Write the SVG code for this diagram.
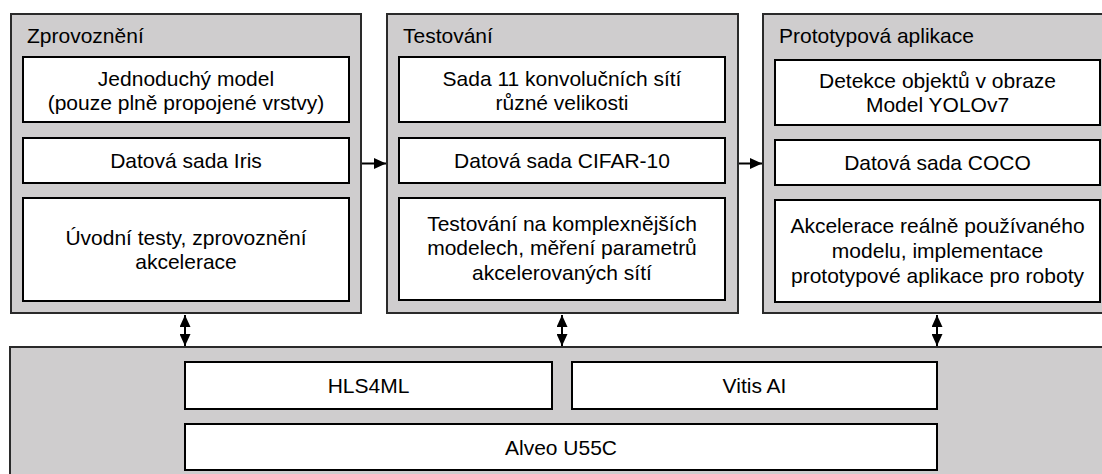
<svg xmlns="http://www.w3.org/2000/svg" width="1102" height="474" viewBox="0 0 1102 474">
<style>
.panel{fill:#cfcdce;stroke:#2a2a2a;stroke-width:2}
.box{fill:#ffffff;stroke:#000000;stroke-width:2}
text{font-family:"Liberation Sans",Arial,sans-serif;font-size:21px;fill:#000000}
.c{text-anchor:middle}
.conn{stroke:#000000;stroke-width:2;fill:none}
</style>
<defs>
<marker id="ah" viewBox="0 0 12 11" refX="12" refY="5.5" markerWidth="12" markerHeight="11" markerUnits="userSpaceOnUse" orient="auto-start-reverse">
<path d="M0,0 L12,5.5 L0,11 z" fill="#000000"/>
</marker>
</defs>
<rect width="1102" height="474" fill="#ffffff"/>

<g id="platform">
<rect class="panel" x="10" y="347" width="1110" height="140"/>
<g id="hls4ml"><rect class="box" x="185" y="362" width="367" height="47"/><text class="c" x="368.5" y="393">HLS4ML</text></g>
<g id="vitis"><rect class="box" x="572" y="362" width="365" height="47"/><text class="c" x="754.5" y="393">Vitis AI</text></g>
<g id="alveo"><rect class="box" x="185" y="424" width="752" height="46"/><text class="c" x="561" y="455">Alveo U55C</text></g>
</g>

<g id="zprovozneni">
<rect class="panel" x="11" y="14" width="350" height="299"/>
<text x="27" y="43">Zprovoznění</text>
<rect class="box" x="23" y="57" width="326" height="65"/>
<text class="c" x="186" y="86">Jednoduchý model</text>
<text class="c" x="186" y="110">(pouze plně propojené vrstvy)</text>
<rect class="box" x="23" y="138" width="326" height="45"/>
<text class="c" x="186" y="168">Datová sada Iris</text>
<rect class="box" x="23" y="198" width="326" height="103"/>
<text class="c" x="186" y="245">Úvodní testy, zprovoznění</text>
<text class="c" x="186" y="269">akcelerace</text>
</g>

<g id="testovani">
<rect class="panel" x="387" y="14" width="351" height="299"/>
<text x="403" y="43">Testování</text>
<rect class="box" x="399" y="57" width="326" height="65"/>
<text class="c" x="562" y="86">Sada 11 konvolučních sítí</text>
<text class="c" x="562" y="110">různé velikosti</text>
<rect class="box" x="399" y="138" width="326" height="45"/>
<text class="c" x="562" y="168">Datová sada CIFAR-10</text>
<rect class="box" x="399" y="198" width="326" height="102"/>
<text class="c" x="562" y="231">Testování na komplexnějších</text>
<text class="c" x="562" y="255">modelech, měření parametrů</text>
<text class="c" x="562" y="280">akcelerovaných sítí</text>
</g>

<g id="prototyp">
<rect class="panel" x="763" y="14" width="360" height="299"/>
<text x="779" y="43">Prototypová aplikace</text>
<rect class="box" x="775" y="60" width="325" height="65"/>
<text class="c" x="937.5" y="88">Detekce objektů v obraze</text>
<text class="c" x="937.5" y="112">Model YOLOv7</text>
<rect class="box" x="775" y="140" width="325" height="45"/>
<text class="c" x="937.5" y="170">Datová sada COCO</text>
<rect class="box" x="775" y="200" width="325" height="102"/>
<text class="c" x="937.5" y="233">Akcelerace reálně používaného</text>
<text class="c" x="937.5" y="258">modelu, implementace</text>
<text class="c" x="937.5" y="283">prototypové aplikace pro roboty</text>
</g>

<g id="connectors">
<line class="conn" x1="362" y1="163.5" x2="386" y2="163.5" marker-end="url(#ah)"/>
<line class="conn" x1="739" y1="163.5" x2="762" y2="163.5" marker-end="url(#ah)"/>
<line class="conn" x1="185" y1="315" x2="185" y2="346" marker-start="url(#ah)" marker-end="url(#ah)"/>
<line class="conn" x1="562" y1="315" x2="562" y2="346" marker-start="url(#ah)" marker-end="url(#ah)"/>
<line class="conn" x1="937" y1="315" x2="937" y2="346" marker-start="url(#ah)" marker-end="url(#ah)"/>
</g>
</svg>
